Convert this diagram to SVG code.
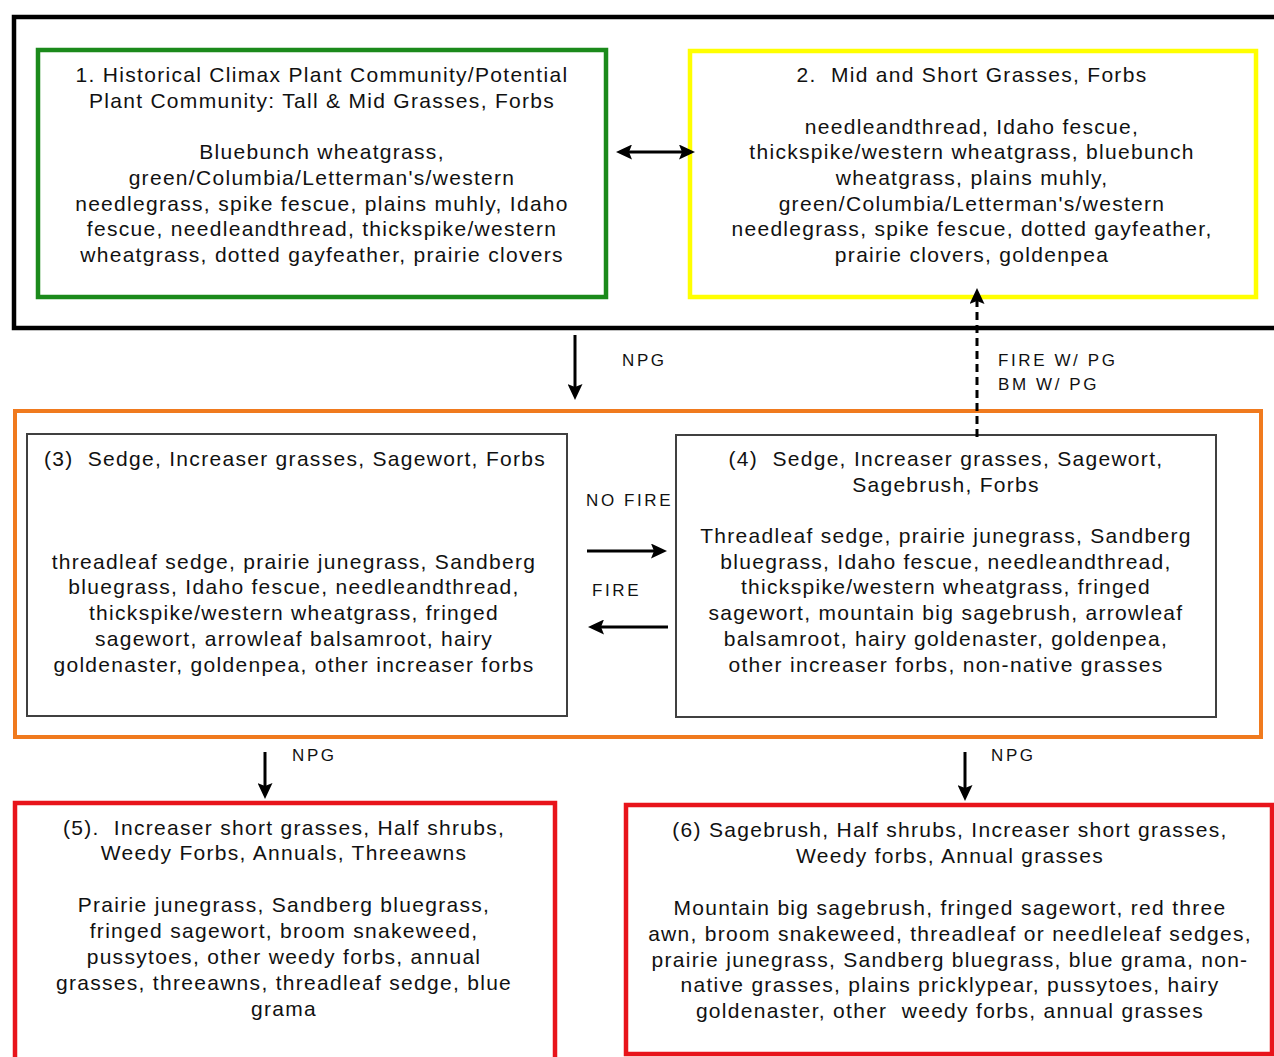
<svg xmlns="http://www.w3.org/2000/svg" width="1274" height="1057" viewBox="0 0 1274 1057">
<defs>
<style>
.t{font-family:"Liberation Sans",Arial,sans-serif;font-size:21px;fill:#111;text-anchor:middle;letter-spacing:1.3px;white-space:pre}
.l{font-family:"Liberation Sans",Arial,sans-serif;font-size:17px;fill:#111;letter-spacing:2.6px}
.c{stroke:#000;stroke-width:3;fill:none}
.inner{fill:#fff;stroke:#404040;stroke-width:2}
</style>
<marker id="ah" markerUnits="userSpaceOnUse" markerWidth="16" markerHeight="15" viewBox="0 0 16 15" refX="8" refY="7.5" orient="auto-start-reverse">
<path d="M0,0 L16,7.5 L0,15 L3,7.5 z" fill="#000"/>
</marker>
</defs>
<rect width="1274" height="1057" fill="#fff"/>

<g id="group-top">
<rect x="14" y="17" width="1280" height="311" fill="none" stroke="#000" stroke-width="4.5"/>
</g>
<g id="group-middle">
<rect x="15" y="411" width="1246" height="326" fill="none" stroke="#f07a1e" stroke-width="4"/>
</g>

<g id="node1">
<rect x="38" y="50" width="568" height="247" fill="none" stroke="#1b8a1b" stroke-width="4.5"/>
<text class="t" x="322" y="82">1. Historical Climax Plant Community/Potential</text>
<text class="t" x="322" y="108">Plant Community: Tall &amp; Mid Grasses, Forbs</text>
<text class="t" x="322" y="159">Bluebunch wheatgrass,</text>
<text class="t" x="322" y="185">green/Columbia/Letterman's/western</text>
<text class="t" x="322" y="211">needlegrass, spike fescue, plains muhly, Idaho</text>
<text class="t" x="322" y="236">fescue, needleandthread, thickspike/western</text>
<text class="t" x="322" y="262">wheatgrass, dotted gayfeather, prairie clovers</text>
</g>

<g id="node2">
<rect x="690" y="51" width="566" height="246" fill="none" stroke="#ffff00" stroke-width="4.5"/>
<text class="t" x="972" y="82">2.  Mid and Short Grasses, Forbs</text>
<text class="t" x="972" y="134">needleandthread, Idaho fescue,</text>
<text class="t" x="972" y="159">thickspike/western wheatgrass, bluebunch</text>
<text class="t" x="972" y="185">wheatgrass, plains muhly,</text>
<text class="t" x="972" y="211">green/Columbia/Letterman's/western</text>
<text class="t" x="972" y="236">needlegrass, spike fescue, dotted gayfeather,</text>
<text class="t" x="972" y="262">prairie clovers, goldenpea</text>
</g>

<g id="node3">
<rect class="inner" x="27" y="434" width="540" height="282"/>
<text class="t" x="295" y="466">(3)  Sedge, Increaser grasses, Sagewort, Forbs</text>
<text class="t" x="294" y="569">threadleaf sedge, prairie junegrass, Sandberg</text>
<text class="t" x="294" y="594">bluegrass, Idaho fescue, needleandthread,</text>
<text class="t" x="294" y="620">thickspike/western wheatgrass, fringed</text>
<text class="t" x="294" y="646">sagewort, arrowleaf balsamroot, hairy</text>
<text class="t" x="294" y="672">goldenaster, goldenpea, other increaser forbs</text>
</g>

<g id="node4">
<rect class="inner" x="676" y="435" width="540" height="282"/>
<text class="t" x="946" y="466">(4)  Sedge, Increaser grasses, Sagewort,</text>
<text class="t" x="946" y="492">Sagebrush, Forbs</text>
<text class="t" x="946" y="543">Threadleaf sedge, prairie junegrass, Sandberg</text>
<text class="t" x="946" y="569">bluegrass, Idaho fescue, needleandthread,</text>
<text class="t" x="946" y="594">thickspike/western wheatgrass, fringed</text>
<text class="t" x="946" y="620">sagewort, mountain big sagebrush, arrowleaf</text>
<text class="t" x="946" y="646">balsamroot, hairy goldenaster, goldenpea,</text>
<text class="t" x="946" y="672">other increaser forbs, non-native grasses</text>
</g>

<g id="node5">
<rect x="15" y="803" width="540" height="275" fill="none" stroke="#e8141b" stroke-width="4.5"/>
<text class="t" x="284" y="835">(5).  Increaser short grasses, Half shrubs,</text>
<text class="t" x="284" y="860">Weedy Forbs, Annuals, Threeawns</text>
<text class="t" x="284" y="912">Prairie junegrass, Sandberg bluegrass,</text>
<text class="t" x="284" y="938">fringed sagewort, broom snakeweed,</text>
<text class="t" x="284" y="964">pussytoes, other weedy forbs, annual</text>
<text class="t" x="284" y="990">grasses, threeawns, threadleaf sedge, blue</text>
<text class="t" x="284" y="1016">grama</text>
</g>

<g id="node6">
<rect x="626" y="805" width="646" height="249" fill="none" stroke="#e8141b" stroke-width="4.5"/>
<text class="t" x="950" y="837">(6) Sagebrush, Half shrubs, Increaser short grasses,</text>
<text class="t" x="950" y="863">Weedy forbs, Annual grasses</text>
<text class="t" x="950" y="915">Mountain big sagebrush, fringed sagewort, red three</text>
<text class="t" x="950" y="941">awn, broom snakeweed, threadleaf or needleleaf sedges,</text>
<text class="t" x="950" y="967">prairie junegrass, Sandberg bluegrass, blue grama, non-</text>
<text class="t" x="950" y="992">native grasses, plains pricklypear, pussytoes, hairy</text>
<text class="t" x="950" y="1018">goldenaster, other  weedy forbs, annual grasses</text>
</g>

<g id="connectors">
<line class="c" x1="624" y1="152" x2="687" y2="152" marker-start="url(#ah)" marker-end="url(#ah)"/>
<line class="c" x1="575" y1="335" x2="575" y2="392" marker-end="url(#ah)"/>
<line class="c" x1="977" y1="437" x2="977" y2="296" stroke-dasharray="8 5" marker-end="url(#ah)"/>
<line class="c" x1="587" y1="551" x2="659" y2="551" marker-end="url(#ah)"/>
<line class="c" x1="668" y1="627" x2="596" y2="627" marker-end="url(#ah)"/>
<line class="c" x1="265" y1="752" x2="265" y2="791" marker-end="url(#ah)"/>
<line class="c" x1="965" y1="752" x2="965" y2="793" marker-end="url(#ah)"/>
<text class="l" x="622" y="366">NPG</text>
<text class="l" x="998" y="366">FIRE W/ PG</text>
<text class="l" x="998" y="390">BM W/ PG</text>
<text class="l" x="586" y="506">NO FIRE</text>
<text class="l" x="592" y="596">FIRE</text>
<text class="l" x="292" y="761">NPG</text>
<text class="l" x="991" y="761">NPG</text>
</g>
</svg>
